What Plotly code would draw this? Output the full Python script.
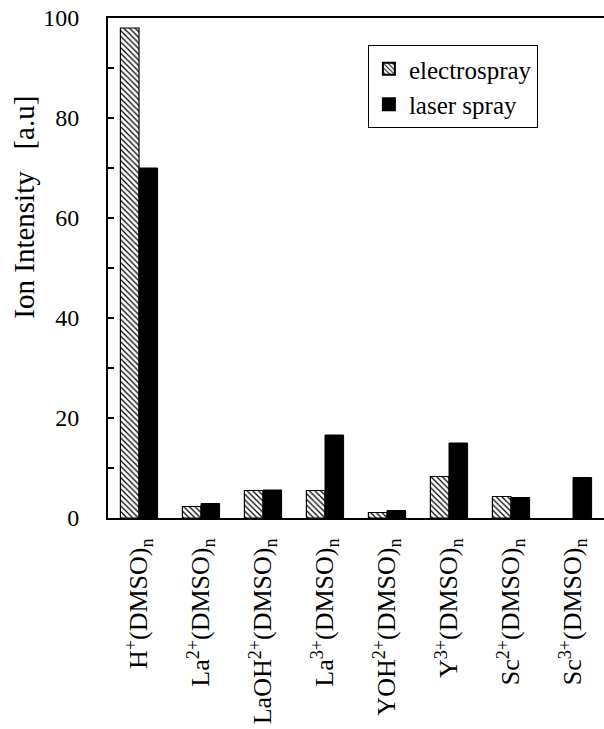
import plotly.graph_objects as go

categories = [
    "H<sup>+</sup>(DMSO)<sub>n</sub>",
    "La<sup>2+</sup>(DMSO)<sub>n</sub>",
    "LaOH<sup>2+</sup>(DMSO)<sub>n</sub>",
    "La<sup>3+</sup>(DMSO)<sub>n</sub>",
    "YOH<sup>2+</sup>(DMSO)<sub>n</sub>",
    "Y<sup>3+</sup>(DMSO)<sub>n</sub>",
    "Sc<sup>2+</sup>(DMSO)<sub>n</sub>",
    "Sc<sup>3+</sup>(DMSO)<sub>n</sub>",
]
# Sc3+ gives no electrospray signal
electrospray = [98.0, 2.3, 5.5, 5.5, 1.1, 8.3, 4.3, None]
laser_spray = [70.0, 2.9, 5.6, 16.6, 1.5, 15.0, 4.1, 8.1]

y_ticks = [0, 20, 40, 60, 80, 100]
y_labels = ["0", "20", "40", "60", "80", "100"]

FONT = "Liberation Serif"

fig = go.Figure()
fig.add_trace(go.Bar(
    x=categories, y=electrospray, name="electrospray",
    marker=dict(
        color="white",
        line=dict(color="black", width=1.2),
        pattern=dict(shape="\\", fgcolor="black", bgcolor="white",
                     size=4, solidity=0.3, fillmode="replace"),
    ),
))
fig.add_trace(go.Bar(
    x=categories, y=laser_spray, name="laser spray",
    marker=dict(color="black", line=dict(color="black", width=1)),
))

fig.update_layout(
    width=604, height=729,
    margin=dict(l=108, r=0, t=18, b=211),
    paper_bgcolor="white", plot_bgcolor="white",
    barmode="group", bargap=0.4, bargroupgap=0.0,
    font=dict(family=FONT, size=24, color="black"),
    showlegend=True,
    legend=dict(
        x=0.524, y=0.946, xanchor="left", yanchor="top",
        bordercolor="black", borderwidth=1, bgcolor="white",
        font=dict(family=FONT, size=25, color="black"),
        itemsizing="constant", tracegroupgap=0,
    ),
    annotations=[dict(
        text="Ion Intensity\u00a0\u00a0\u00a0[a.u]", textangle=-90,
        xref="paper", yref="paper", x=-0.17, y=0.622,
        xanchor="center", yanchor="middle", showarrow=False,
        font=dict(family=FONT, size=29, color="black"),
    )],
)
fig.update_xaxes(
    type="category", range=[-0.5, 7.5],
    showline=True, linecolor="black", linewidth=2, mirror=True,
    ticks="", tickangle=-90, ticklabelstandoff=8,
    tickfont=dict(family=FONT, size=26, color="black"),
    showgrid=False, zeroline=False,
)
fig.update_yaxes(
    range=[0, 100], tickmode="array", tickvals=y_ticks, ticktext=y_labels,
    showline=True, linecolor="black", linewidth=2,
    ticks="inside", ticklen=6, tickwidth=2, tickcolor="black",
    minor=dict(dtick=10, ticks="inside", ticklen=6, tickwidth=2,
               tickcolor="black", showgrid=False),
    ticklabelstandoff=22,
    tickfont=dict(family=FONT, size=24, color="black"),
    showgrid=False, zeroline=False,
)

fig.write_html("out.html")
